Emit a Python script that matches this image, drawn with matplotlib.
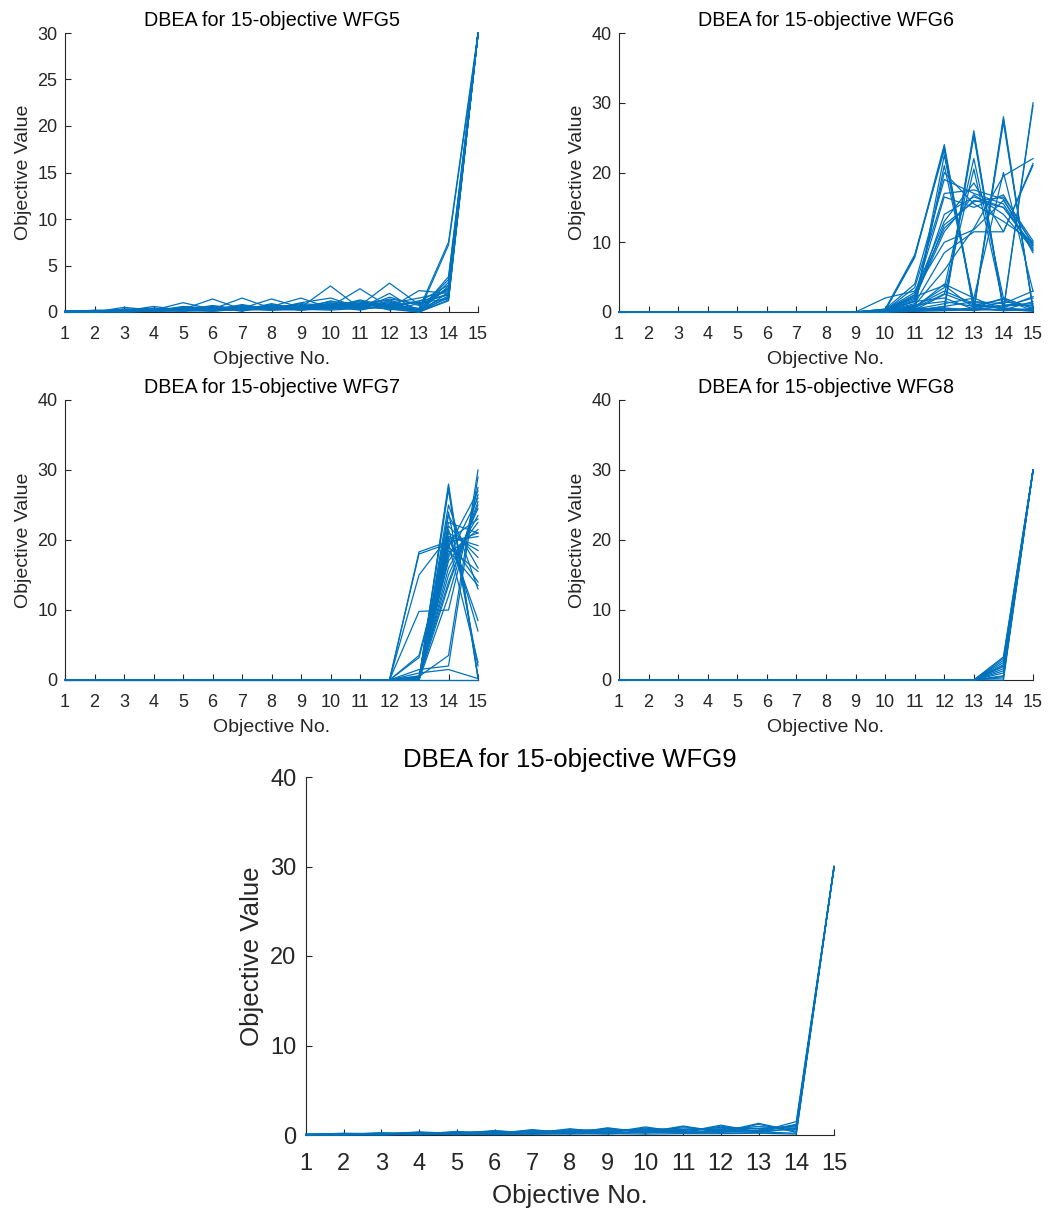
import matplotlib
matplotlib.use("Agg")
import matplotlib.pyplot as plt
import numpy as np

plt.rcParams['font.family'] = ['Liberation Sans', 'DejaVu Sans']

objectives = list(range(1, 16))
x_ticklabels = [str(i) for i in objectives]

titles = ["DBEA for 15-objective WFG5", "DBEA for 15-objective WFG6",
          "DBEA for 15-objective WFG7", "DBEA for 15-objective WFG8",
          "DBEA for 15-objective WFG9"]

wfg5_lines = [
    [0.0, 0.1, 0.2, 0.1, 0.3, 0.2, 0.4, 0.3, 0.5, 2.8, 0.4, 0.6, 0.3, 7.5, 30.0],
    [0.0, 0.0, 0.5, 0.2, 0.3, 1.4, 0.3, 0.5, 0.4, 0.6, 2.5, 0.5, 0.2, 3.5, 29.8],
    [0.1, 0.1, 0.1, 0.6, 0.2, 0.3, 1.5, 0.4, 0.6, 0.5, 0.7, 3.1, 0.8, 2.0, 29.9],
    [0.0, 0.2, 0.2, 0.2, 1.0, 0.3, 0.4, 1.4, 0.5, 0.8, 0.4, 2.0, 0.0, 7.2, 29.7],
    [0.0, 0.0, 0.3, 0.4, 0.2, 0.7, 0.3, 0.6, 1.5, 0.4, 1.2, 0.4, 2.3, 2.0, 29.9],
    [0.1, 0.1, 0.2, 0.1, 0.4, 0.2, 0.8, 0.3, 1.0, 1.5, 0.5, 1.0, 0.2, 1.5, 30.0],
    [0.0, 0.1, 0.1, 0.3, 0.2, 0.5, 0.2, 0.9, 0.3, 1.2, 0.6, 1.4, 0.9, 2.5, 29.9],
    [0.0, 0.0, 0.2, 0.2, 0.5, 0.3, 0.6, 0.4, 0.8, 0.5, 1.3, 0.6, 1.2, 1.8, 29.8],
    [0.0, 0.1, 0.1, 0.2, 0.3, 0.3, 0.4, 0.5, 0.5, 0.9, 0.7, 1.1, 0.0, 2.8, 30.0],
    [0.1, 0.0, 0.3, 0.1, 0.2, 0.6, 0.3, 0.7, 0.3, 1.0, 0.3, 0.8, 1.0, 1.4, 29.9],
    [0.0, 0.1, 0.2, 0.3, 0.1, 0.4, 0.5, 0.2, 0.7, 0.3, 1.0, 0.5, 0.0, 3.2, 30.0],
    [0.0, 0.0, 0.1, 0.1, 0.3, 0.1, 0.3, 0.3, 0.4, 0.6, 0.9, 1.3, 0.3, 1.7, 29.9],
    [0.0, 0.1, 0.2, 0.2, 0.2, 0.3, 0.7, 0.4, 0.9, 0.7, 0.5, 0.9, 1.5, 2.2, 29.8],
    [0.1, 0.1, 0.1, 0.4, 0.3, 0.2, 0.2, 0.6, 0.2, 0.4, 0.6, 0.3, 0.0, 1.2, 30.0],
    [0.0, 0.0, 0.3, 0.1, 0.6, 0.4, 0.4, 0.3, 0.6, 1.1, 0.8, 0.6, 0.1, 3.8, 29.9],
    [0.0, 0.1, 0.1, 0.2, 0.1, 0.2, 0.5, 0.4, 0.3, 0.2, 0.4, 1.6, 0.7, 2.4, 30.0],
    [0.0, 0.0, 0.2, 0.3, 0.4, 0.6, 0.1, 0.8, 0.4, 0.8, 1.1, 0.2, 0.9, 1.9, 29.9],
    [0.1, 0.1, 0.1, 0.1, 0.2, 0.1, 0.3, 0.2, 0.4, 0.3, 0.5, 0.4, 0.0, 1.3, 29.8],
    [0.0, 0.0, 0.0, 0.1, 0.1, 0.2, 0.2, 0.3, 0.2, 0.5, 0.3, 0.7, 0.4, 2.6, 30.0],
    [0.0, 0.1, 0.2, 0.1, 0.3, 0.3, 0.2, 0.5, 0.6, 0.4, 0.9, 0.5, 1.1, 2.9, 29.9],
    [0.0, 0.0, 0.1, 0.2, 0.2, 0.1, 0.4, 0.2, 0.3, 0.6, 0.2, 0.8, 0.0, 1.6, 30.0],
    [0.0, 0.1, 0.0, 0.1, 0.2, 0.4, 0.1, 0.6, 0.2, 0.9, 0.4, 1.2, 0.0, 2.1, 29.9],
]

wfg6_lines = [
    [0, 0, 0, 0, 0, 0, 0, 0, 0, 0.3, 8.0, 24.0, 0.4, 0.3, 0.2],
    [0, 0, 0, 0, 0, 0, 0, 0, 0, 0.2, 7.8, 23.6, 0.6, 0.2, 0.3],
    [0, 0, 0, 0, 0, 0, 0, 0, 0, 0.4, 8.2, 23.2, 0.3, 0.4, 0.1],
    [0, 0, 0, 0, 0, 0, 0, 0, 0, 0.1, 0.5, 22.5, 1.0, 0.5, 0.2],
    [0, 0, 0, 0, 0, 0, 0, 0, 0, 0.0, 0.3, 0.5, 26.0, 0.4, 0.3],
    [0, 0, 0, 0, 0, 0, 0, 0, 0, 0.1, 0.2, 0.8, 25.6, 0.2, 0.5],
    [0, 0, 0, 0, 0, 0, 0, 0, 0, 0.0, 0.6, 0.3, 25.2, 0.6, 0.2],
    [0, 0, 0, 0, 0, 0, 0, 0, 0, 0.0, 0.1, 0.4, 0.3, 28.0, 0.4],
    [0, 0, 0, 0, 0, 0, 0, 0, 0, 0.1, 0.2, 0.2, 0.6, 27.6, 0.3],
    [0, 0, 0, 0, 0, 0, 0, 0, 0, 0.0, 0.4, 0.6, 0.2, 27.2, 0.6],
    [0, 0, 0, 0, 0, 0, 0, 0, 0, 0.0, 0.1, 0.2, 0.3, 0.4, 30.0],
    [0, 0, 0, 0, 0, 0, 0, 0, 0, 0.0, 0.2, 0.3, 0.5, 0.2, 29.6],
    [0, 0, 0, 0, 0, 0, 0, 0, 0, 0.2, 2.5, 12.0, 16.0, 15.0, 9.5],
    [0, 0, 0, 0, 0, 0, 0, 0, 0, 0.1, 1.5, 20.0, 15.5, 13.0, 10.0],
    [0, 0, 0, 0, 0, 0, 0, 0, 0, 0.3, 2.8, 13.0, 18.5, 11.5, 21.3],
    [0, 0, 0, 0, 0, 0, 0, 0, 0, 0.2, 3.5, 17.0, 17.5, 16.2, 8.5],
    [0, 0, 0, 0, 0, 0, 0, 0, 0, 0.1, 1.2, 8.5, 11.5, 11.5, 21.0],
    [0, 0, 0, 0, 0, 0, 0, 0, 0, 0.0, 1.0, 6.0, 12.0, 19.5, 22.0],
    [0, 0, 0, 0, 0, 0, 0, 0, 0, 0.2, 0.8, 3.5, 22.0, 2.0, 0.5],
    [0, 0, 0, 0, 0, 0, 0, 0, 0, 0.1, 0.6, 4.0, 2.0, 20.0, 3.0],
    [0, 0, 0, 0, 0, 0, 0, 0, 0, 0.3, 2.0, 11.5, 16.8, 14.0, 9.0],
    [0, 0, 0, 0, 0, 0, 0, 0, 0, 0.2, 1.8, 12.5, 15.8, 16.5, 10.2],
    [0, 0, 0, 0, 0, 0, 0, 0, 0, 0.4, 4.0, 19.0, 17.0, 15.5, 8.8],
    [0, 0, 0, 0, 0, 0, 0, 0, 0, 2.0, 3.0, 10.0, 11.8, 16.0, 9.8],
    [0, 0, 0, 0, 0, 0, 0, 0, 0, 0.1, 0.5, 21.0, 1.5, 0.8, 2.0],
    [0, 0, 0, 0, 0, 0, 0, 0, 0, 0.0, 0.3, 2.5, 20.5, 1.0, 1.2],
    [0, 0, 0, 0, 0, 0, 0, 0, 0, 0.1, 0.8, 3.0, 1.2, 0.5, 0.3],
    [0, 0, 0, 0, 0, 0, 0, 0, 0, 0.3, 1.5, 2.0, 0.4, 1.5, 0.8],
    [0, 0, 0, 0, 0, 0, 0, 0, 0, 0.0, 0.4, 1.2, 2.0, 0.3, 1.5],
    [0, 0, 0, 0, 0, 0, 0, 0, 0, 0.2, 2.2, 3.8, 0.6, 2.0, 0.5],
    [0, 0, 0, 0, 0, 0, 0, 0, 0, 0.1, 0.2, 0.8, 1.5, 1.2, 3.0],
    [0, 0, 0, 0, 0, 0, 0, 0, 0, 0.0, 1.0, 1.5, 0.8, 0.6, 2.2],
    [0, 0, 0, 0, 0, 0, 0, 0, 0, 0.4, 0.6, 2.6, 1.0, 1.8, 0.2],
    [0, 0, 0, 0, 0, 0, 0, 0, 0, 0.2, 0.3, 0.5, 0.2, 0.9, 1.0],
    [0, 0, 0, 0, 0, 0, 0, 0, 0, 0.1, 1.6, 14.0, 16.5, 15.0, 9.2],
    [0, 0, 0, 0, 0, 0, 0, 0, 0, 0.2, 2.4, 16.5, 15.0, 16.8, 9.6],
]

wfg7_lines = [
    [0, 0, 0, 0, 0, 0, 0, 0, 0, 0, 0, 0, 0.0, 28.0, 0.3],
    [0, 0, 0, 0, 0, 0, 0, 0, 0, 0, 0, 0, 0.2, 27.6, 0.5],
    [0, 0, 0, 0, 0, 0, 0, 0, 0, 0, 0, 0, 0.0, 27.2, 0.2],
    [0, 0, 0, 0, 0, 0, 0, 0, 0, 0, 0, 0, 18.3, 19.8, 20.5],
    [0, 0, 0, 0, 0, 0, 0, 0, 0, 0, 0, 0, 18.0, 19.5, 21.0],
    [0, 0, 0, 0, 0, 0, 0, 0, 0, 0, 0, 0, 15.0, 20.5, 19.2],
    [0, 0, 0, 0, 0, 0, 0, 0, 0, 0, 0, 0, 9.8, 10.0, 27.5],
    [0, 0, 0, 0, 0, 0, 0, 0, 0, 0, 0, 0, 3.5, 20.0, 14.0],
    [0, 0, 0, 0, 0, 0, 0, 0, 0, 0, 0, 0, 3.2, 19.0, 15.5],
    [0, 0, 0, 0, 0, 0, 0, 0, 0, 0, 0, 0, 1.5, 2.0, 29.0],
    [0, 0, 0, 0, 0, 0, 0, 0, 0, 0, 0, 0, 0.5, 3.5, 30.0],
    [0, 0, 0, 0, 0, 0, 0, 0, 0, 0, 0, 0, 0.0, 25.0, 13.0],
    [0, 0, 0, 0, 0, 0, 0, 0, 0, 0, 0, 0, 0.1, 23.5, 16.0],
    [0, 0, 0, 0, 0, 0, 0, 0, 0, 0, 0, 0, 0.3, 22.0, 17.5],
    [0, 0, 0, 0, 0, 0, 0, 0, 0, 0, 0, 0, 0.0, 21.0, 18.5],
    [0, 0, 0, 0, 0, 0, 0, 0, 0, 0, 0, 0, 0.5, 18.0, 21.5],
    [0, 0, 0, 0, 0, 0, 0, 0, 0, 0, 0, 0, 0.2, 17.0, 22.5],
    [0, 0, 0, 0, 0, 0, 0, 0, 0, 0, 0, 0, 0.0, 16.0, 23.5],
    [0, 0, 0, 0, 0, 0, 0, 0, 0, 0, 0, 0, 0.4, 15.0, 24.5],
    [0, 0, 0, 0, 0, 0, 0, 0, 0, 0, 0, 0, 0.1, 13.5, 25.5],
    [0, 0, 0, 0, 0, 0, 0, 0, 0, 0, 0, 0, 0.0, 12.0, 26.5],
    [0, 0, 0, 0, 0, 0, 0, 0, 0, 0, 0, 0, 0.3, 20.5, 8.5],
    [0, 0, 0, 0, 0, 0, 0, 0, 0, 0, 0, 0, 0.0, 21.5, 7.0],
    [0, 0, 0, 0, 0, 0, 0, 0, 0, 0, 0, 0, 0.2, 19.5, 2.5],
    [0, 0, 0, 0, 0, 0, 0, 0, 0, 0, 0, 0, 0.0, 24.0, 2.0],
    [0, 0, 0, 0, 0, 0, 0, 0, 0, 0, 0, 0, 0.6, 14.0, 25.0],
    [0, 0, 0, 0, 0, 0, 0, 0, 0, 0, 0, 0, 1.0, 1.5, 0.2],
    [0, 0, 0, 0, 0, 0, 0, 0, 0, 0, 0, 0, 0.0, 19.0, 27.0],
    [0, 0, 0, 0, 0, 0, 0, 0, 0, 0, 0, 0, 0.1, 17.5, 26.0],
    [0, 0, 0, 0, 0, 0, 0, 0, 0, 0, 0, 0, 0.2, 20.0, 23.0],
    [0, 0, 0, 0, 0, 0, 0, 0, 0, 0, 0, 0, 0.0, 18.5, 13.5],
    [0, 0, 0, 0, 0, 0, 0, 0, 0, 0, 0, 0, 0.3, 22.5, 21.0],
    [0, 0, 0, 0, 0, 0, 0, 0, 0, 0, 0, 0, 0.0, 0.0, 0.0],
]

wfg8_lines = [
    [0, 0, 0, 0, 0, 0, 0, 0, 0, 0, 0, 0, 0, 0.0, 30.0],
    [0, 0, 0, 0, 0, 0, 0, 0, 0, 0, 0, 0, 0, 0.3, 29.9],
    [0, 0, 0, 0, 0, 0, 0, 0, 0, 0, 0, 0, 0, 0.6, 30.0],
    [0, 0, 0, 0, 0, 0, 0, 0, 0, 0, 0, 0, 0, 1.0, 29.8],
    [0, 0, 0, 0, 0, 0, 0, 0, 0, 0, 0, 0, 0, 1.3, 30.0],
    [0, 0, 0, 0, 0, 0, 0, 0, 0, 0, 0, 0, 0, 1.6, 29.9],
    [0, 0, 0, 0, 0, 0, 0, 0, 0, 0, 0, 0, 0, 1.9, 30.0],
    [0, 0, 0, 0, 0, 0, 0, 0, 0, 0, 0, 0, 0, 2.2, 29.8],
    [0, 0, 0, 0, 0, 0, 0, 0, 0, 0, 0, 0, 0, 2.5, 29.9],
    [0, 0, 0, 0, 0, 0, 0, 0, 0, 0, 0, 0, 0, 2.8, 30.0],
    [0, 0, 0, 0, 0, 0, 0, 0, 0, 0, 0, 0, 0, 3.1, 29.9],
    [0, 0, 0, 0, 0, 0, 0, 0, 0, 0, 0, 0, 0, 3.3, 30.0],
    [0, 0, 0, 0, 0, 0, 0, 0, 0, 0, 0, 0, 0, 0.5, 29.9],
    [0, 0, 0, 0, 0, 0, 0, 0, 0, 0, 0, 0, 0, 2.0, 29.9],
]

wfg9_lines = [
    [0.05, 0.20, 0.10, 0.35, 0.15, 0.50, 0.20, 0.70, 0.25, 0.90, 0.30, 1.10, 0.35, 1.50, 30.0],
    [0.05, 0.05, 0.25, 0.10, 0.40, 0.15, 0.60, 0.20, 0.80, 0.30, 1.00, 0.35, 1.30, 0.40, 29.9],
    [0.00, 0.10, 0.15, 0.20, 0.25, 0.30, 0.35, 0.40, 0.45, 0.55, 0.60, 0.70, 0.75, 0.90, 30.0],
    [0.10, 0.15, 0.05, 0.30, 0.10, 0.45, 0.15, 0.60, 0.20, 0.80, 0.25, 1.00, 0.30, 1.20, 29.8],
    [0.00, 0.05, 0.20, 0.05, 0.35, 0.10, 0.55, 0.15, 0.75, 0.20, 0.95, 0.25, 1.20, 0.30, 30.0],
    [0.05, 0.10, 0.10, 0.15, 0.20, 0.20, 0.25, 0.30, 0.30, 0.35, 0.40, 0.45, 0.50, 0.60, 29.9],
    [0.00, 0.00, 0.05, 0.10, 0.10, 0.15, 0.15, 0.20, 0.20, 0.25, 0.30, 0.30, 0.35, 0.20, 30.0],
    [0.10, 0.05, 0.15, 0.25, 0.20, 0.35, 0.40, 0.30, 0.55, 0.60, 0.50, 0.85, 0.70, 1.00, 29.9],
    [0.05, 0.15, 0.20, 0.15, 0.30, 0.40, 0.30, 0.55, 0.60, 0.45, 0.80, 0.60, 0.95, 0.70, 30.0],
    [0.00, 0.05, 0.10, 0.20, 0.25, 0.25, 0.45, 0.45, 0.35, 0.70, 0.65, 0.55, 0.55, 1.10, 29.8],
    [0.05, 0.00, 0.05, 0.05, 0.10, 0.05, 0.10, 0.10, 0.15, 0.10, 0.15, 0.15, 0.20, 0.10, 30.0],
    [0.00, 0.10, 0.00, 0.15, 0.05, 0.20, 0.10, 0.25, 0.10, 0.40, 0.20, 0.50, 0.25, 0.80, 29.9],
]

panels = [
    (wfg5_lines, [0, 5, 10, 15, 20, 25, 30], 30),
    (wfg6_lines, [0, 10, 20, 30, 40], 40),
    (wfg7_lines, [0, 10, 20, 30, 40], 40),
    (wfg8_lines, [0, 10, 20, 30, 40], 40),
    (wfg9_lines, [0, 10, 20, 30, 40], 40),
]

W, H = 1050, 1211
rects_px = [
    (65, 33, 478, 312),
    (619, 33, 1033, 312),
    (65, 400, 478, 680),
    (619, 400, 1033, 680),
    (306, 777, 834, 1135),
]

line_color = '#0072BD'
text_color = '#262626'

fig = plt.figure(figsize=(W / 100, H / 100), dpi=100)

for i, ((lines, yticks, ymax), (l, t, r, b)) in enumerate(zip(panels, rects_px)):
    ax = fig.add_axes([l / W, 1 - b / H, (r - l) / W, (b - t) / H])
    big = (i == 4)
    tick_fs = 17 if big else 13
    lab_fs = 18.6 if big else 14
    title_fs = 18.5 if big else 14.2
    for ln in lines:
        ax.plot(objectives, ln, color=line_color, lw=0.9, clip_on=False, zorder=2)
    ax.set_xlim(1, 15)
    ax.set_ylim(0, ymax)
    ax.set_xticks(objectives)
    ax.set_xticklabels(x_ticklabels)
    ax.set_yticks(yticks)
    ax.spines['top'].set_visible(False)
    ax.spines['right'].set_visible(False)
    for s in ('left', 'bottom'):
        ax.spines[s].set_color(text_color)
        ax.spines[s].set_linewidth(0.8)
        ax.spines[s].set_zorder(1)
    ax.tick_params(direction='in', length=4, width=0.8, colors=text_color,
                   labelsize=tick_fs)
    ax.tick_params(axis='x', pad=(13 if big else 10))
    ax.tick_params(axis='y', pad=(7 if big else 5.5))
    ax.set_title(titles[i], fontsize=title_fs, color='black', pad=(7 if big else 5))
    ax.set_xlabel("Objective No.", fontsize=lab_fs, color=text_color,
                  labelpad=(6.5 if big else 6))
    ax.set_ylabel("Objective Value", fontsize=lab_fs, color=text_color,
                  labelpad=(4 if big else 4))

fig.savefig("out.png", dpi=100)
